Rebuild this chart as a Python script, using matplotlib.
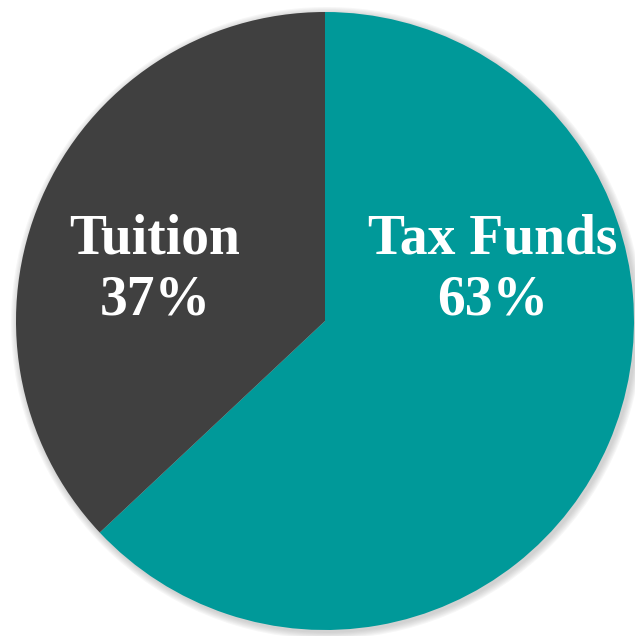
import matplotlib.pyplot as plt
from matplotlib.patches import Circle

# Funding shares (percent)
labels = ['Tax Funds', 'Tuition']
shares = [63, 37]
colors = ['#009999', '#404040']
label_pos = [(493, 366), (155, 366)]

fig = plt.figure(figsize=(6.35, 6.36), dpi=100)
ax = fig.add_axes([0, 0, 1, 1])

cx, cy, r = 325, 315, 309

# soft shadow around the pie
for k in range(6):
    ax.add_patch(Circle((cx + 2, cy - 2), r + 1 + k * 1.2, color='#888888',
                        alpha=0.07, lw=0, zorder=0))

ax.pie(shares, colors=colors, startangle=90, counterclock=False,
       center=(cx, cy), radius=r, frame=True,
       wedgeprops=dict(linewidth=0))
ax.set_xlim(0, 635)
ax.set_ylim(0, 636)
ax.set_aspect('equal')
ax.axis('off')

for lab, val, (x, y) in zip(labels, shares, label_pos):
    ax.text(x, y, f'{lab}\n{val}%', ha='center', va='center', color='white',
            fontsize=40, fontweight='bold', family='Liberation Serif',
            linespacing=1.24)

fig.savefig('out.png', dpi=100)
